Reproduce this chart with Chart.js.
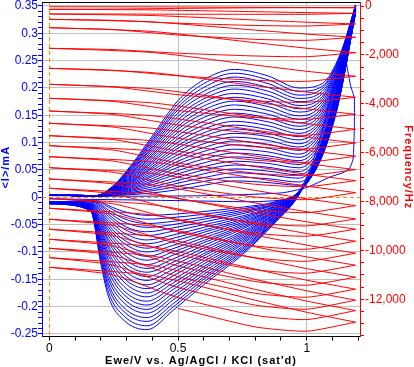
<!DOCTYPE html>
<html>
<head>
<meta charset="utf-8">
<script src="https://cdn.jsdelivr.net/npm/chart.js@4/dist/chart.umd.min.js"></script>
<style>
html, body { margin: 0; padding: 0; background: #fff; }
canvas { display: block; }
</style>
</head>
<body>
<canvas id="grafico" width="414" height="367"></canvas>
<script>
"use strict";

// --- dati ---
// voltammetria: potenziali (V) e correnti (uA), una riga per ciclo (dal piu' interno al piu' esterno)
const potenzialeAndata = [0, 0.18, 0.25, 0.32, 0.4, 0.5, 0.6, 0.72, 0.85, 0.97, 1.06, 1.13, 1.19];
const correnteAndata = [
  [5,2,3,5,8,14,22,30,27,22,75,190,338],
  [5,2,4,7,12,20,29,37,34,28,80,193,338],
  [5,2,4,9,15,26,36,45,41,35,85,195,339],
  [5,2,5,11,19,31,43,52,48,41,89,198,340],
  [5,2,6,13,23,37,50,59,55,47,94,200,340],
  [5,2,6,15,27,43,56,66,62,54,99,203,341],
  [5,2,7,17,30,49,63,74,69,60,104,205,341],
  [5,2,8,19,34,55,70,81,76,67,108,208,342],
  [5,2,8,21,38,61,77,88,83,73,113,211,342],
  [5,2,9,23,41,66,84,96,90,79,118,213,343],
  [5,2,10,25,45,72,91,103,97,86,123,216,343],
  [5,2,10,27,49,78,98,110,104,92,127,218,344],
  [5,2,11,29,53,84,105,117,111,98,132,221,344],
  [5,2,12,30,56,90,112,125,117,105,137,223,345],
  [5,3,13,32,60,95,118,132,124,111,142,226,345],
  [5,3,13,34,64,101,125,139,131,117,146,229,346],
  [5,3,14,36,67,107,132,147,138,124,151,231,346],
  [5,3,15,38,71,113,139,154,145,130,156,234,347],
  [5,3,15,40,75,119,146,161,152,136,161,236,347],
  [5,3,16,42,78,125,153,169,159,143,165,239,348],
  [5,3,17,44,82,130,160,176,166,149,170,241,348],
  [5,3,17,46,86,136,167,183,173,156,175,244,349],
  [5,3,18,48,90,142,174,190,180,162,180,247,349],
  [5,3,19,50,93,148,180,198,187,168,184,249,350],
  [5,3,19,52,97,154,187,205,194,175,189,252,350],
  [5,3,20,54,101,160,194,212,201,181,194,254,351],
  [5,3,21,56,104,165,201,220,208,187,199,257,351],
  [5,3,21,58,108,171,208,227,215,194,203,259,352],
  [5,3,22,60,112,177,215,234,222,200,208,262,352]
];
const potenzialeRitorno = [1.19, 1.12, 1.05, 0.97, 0.88, 0.75, 0.6, 0.48, 0.38, 0.29, 0.23, 0.2, 0.16, 0];
const correnteRitorno = [
  [338,165,65,10,-8,-18,-26,-31,-33,-26,-15,-8,-6,-9],
  [338,166,66,10,-9,-21,-31,-37,-40,-32,-18,-10,-7,-9],
  [339,168,67,10,-11,-24,-36,-44,-48,-39,-23,-13,-8,-9],
  [340,169,68,9,-12,-27,-40,-50,-55,-45,-27,-15,-9,-9],
  [340,170,69,9,-13,-30,-45,-56,-63,-52,-31,-18,-11,-9],
  [341,171,69,9,-15,-34,-50,-62,-70,-58,-35,-21,-12,-9],
  [341,173,70,9,-16,-37,-55,-69,-78,-65,-40,-24,-13,-9],
  [342,174,71,9,-17,-40,-60,-75,-85,-71,-45,-27,-14,-9],
  [342,175,72,9,-19,-43,-64,-81,-93,-78,-50,-30,-15,-9],
  [343,176,73,8,-20,-46,-69,-88,-100,-84,-55,-33,-15,-9],
  [343,178,74,8,-21,-49,-74,-94,-108,-91,-60,-37,-16,-10],
  [344,179,75,8,-23,-52,-79,-100,-115,-98,-65,-40,-17,-10],
  [344,180,76,8,-24,-55,-83,-106,-123,-105,-71,-44,-18,-10],
  [345,181,77,8,-25,-58,-88,-113,-130,-112,-77,-48,-19,-10],
  [345,183,77,7,-26,-62,-93,-119,-137,-119,-82,-51,-19,-10],
  [346,184,78,7,-28,-65,-98,-125,-145,-126,-89,-56,-20,-10],
  [346,185,79,7,-29,-68,-103,-132,-152,-133,-94,-60,-20,-10],
  [347,186,80,7,-30,-71,-107,-138,-160,-141,-101,-64,-21,-10],
  [347,188,81,7,-32,-74,-112,-144,-167,-148,-107,-69,-22,-10],
  [348,189,82,7,-33,-77,-117,-151,-175,-155,-114,-73,-22,-10],
  [348,190,83,6,-34,-80,-122,-157,-182,-163,-121,-78,-22,-11],
  [349,191,84,6,-36,-83,-127,-163,-190,-171,-128,-83,-23,-11],
  [349,193,85,6,-37,-86,-131,-169,-197,-178,-135,-88,-23,-11],
  [350,194,85,6,-38,-90,-136,-176,-205,-186,-143,-93,-23,-11],
  [350,195,86,6,-40,-93,-141,-182,-212,-193,-150,-98,-24,-11],
  [351,196,87,6,-41,-96,-146,-188,-220,-202,-158,-104,-24,-11],
  [351,198,88,5,-42,-99,-150,-195,-227,-209,-165,-109,-24,-12],
  [352,199,89,5,-44,-102,-155,-201,-235,-217,-174,-115,-24,-12],
  [352,200,90,5,-45,-105,-160,-207,-242,-225,-182,-121,-24,-12]
];
// primo ciclo (anello di nucleazione)
const potenzialePrimo = [0,0.3,0.6,0.9,1.0,1.09,1.14,1.165,1.18,1.185,1.185,1.18,1.17,1.16,1.15,1.13,1.1,1.06,1.02,0.98,0.94,0.8,0.5,0.2,0];
const correntePrimo = [3,2,3,8,18,37,45,52,70,130,180,190,205,230,252,240,195,120,60,18,-2,-8,-6,-4,-3];

// microbilancia: frequenza (Hz) per ciclo, andata e ritorno
const potenzialeFreqAndata = [0, 0.4, 0.8, 1.0, 1.19];
const freqAndata = [
  [-29,-35,-53,-61,-70],
  [-135,-160,-233,-270,-299],
  [-327,-389,-573,-663,-736],
  [-544,-654,-986,-1150,-1280],
  [-888,-1041,-1501,-1726,-1910],
  [-1730,-1902,-2417,-2671,-2875],
  [-2548,-2726,-3260,-3522,-3734],
  [-3203,-3387,-3939,-4209,-4429],
  [-3775,-3965,-4536,-4814,-5043],
  [-4295,-4491,-5080,-5366,-5603],
  [-4798,-5000,-5607,-5906,-6147],
  [-5305,-5513,-6139,-6446,-6695],
  [-5714,-5928,-6573,-6888,-7145],
  [-6164,-6384,-7047,-7370,-7636],
  [-6614,-6847,-7546,-7890,-8168],
  [-7076,-7321,-8057,-8417,-8712],
  [-7456,-7708,-8462,-8830,-9133],
  [-7865,-8129,-8920,-9309,-9624],
  [-8274,-8550,-9378,-9783,-10114],
  [-8724,-9007,-9853,-10266,-10605],
  [-9133,-9427,-10311,-10744,-11096],
  [-9542,-9849,-10769,-11219,-11587],
  [-9910,-10228,-11186,-11652,-12037],
  [-10294,-10619,-11595,-12073,-12462],
  [-10687,-11024,-12037,-12532,-12937]
];
const potenzialeFreqRitorno = [1.19, 1.0, 0.8, 0.5, 0.25, 0];
const freqRitorno = [
  [-70,-70,-74,-98,-127,-135],
  [-299,-339,-339,-335,-327,-327],
  [-736,-818,-797,-703,-585,-544],
  [-1280,-1403,-1362,-1186,-965,-888],
  [-1910,-2074,-2045,-1930,-1783,-1730],
  [-2875,-3080,-3039,-2855,-2630,-2548],
  [-3734,-3939,-3881,-3628,-3313,-3203],
  [-4429,-4634,-4564,-4274,-3906,-3775],
  [-5043,-5288,-5211,-4871,-4442,-4295],
  [-5603,-5849,-5763,-5407,-4957,-4798],
  [-6147,-6393,-6307,-5935,-5468,-5305],
  [-6695,-6941,-6842,-6425,-5898,-5714],
  [-7145,-7391,-7293,-6875,-6348,-6164],
  [-7636,-7922,-7816,-7374,-6810,-6614],
  [-8168,-8454,-8344,-7874,-7285,-7076],
  [-8712,-8998,-8875,-8352,-7689,-7456],
  [-9133,-9419,-9296,-8765,-8098,-7865],
  [-9624,-9951,-9816,-9248,-8524,-8274],
  [-10114,-10442,-10303,-9722,-8982,-8724],
  [-10605,-10932,-10789,-10176,-9403,-9133],
  [-11096,-11423,-11272,-10634,-9824,-9542],
  [-11587,-11914,-11754,-11071,-10208,-9910],
  [-12037,-12405,-12237,-11517,-10609,-10294],
  [-12462,-12830,-12658,-11930,-11010,-10687],
  [-12937,-13305,-13129,-12372]
];

// tacche degli assi
const tickFrequenza = { da: -13500, a: 0, passo: 500, etichetta: 2000 };

const BLU = "#0000ff", ROSSO = "#ff0000";
const fontTick = { family: "Liberation Sans, Arial, sans-serif", size: 12 };

function serie(xs, ys, scala) {
  return ys.map((v, i) => ({ x: xs[i], y: v / scala }));
}

let datasets = [];
// frequenza (sopra alle correnti)
for (let c = 0; c < freqAndata.length; c++) {
  let punti = serie(potenzialeFreqAndata, freqAndata[c], 1).concat(serie(potenzialeFreqRitorno, freqRitorno[c], 1));
  datasets.push({ data: punti, yAxisID: "y2", borderColor: ROSSO, borderWidth: 1, pointRadius: 0, showLine: true, tension: 0.2, order: 0 });
}
// correnti
datasets.push({ data: serie(potenzialePrimo, correntePrimo, 1000), yAxisID: "y", borderColor: BLU, borderWidth: 1, pointRadius: 0, showLine: true, tension: 0.2, order: 1 });
for (let c = 0; c < correnteAndata.length; c++) {
  datasets.push({ data: serie(potenzialeAndata, correnteAndata[c], 1000), yAxisID: "y", borderColor: BLU, borderWidth: 1, pointRadius: 0, showLine: true, cubicInterpolationMode: "monotone", order: 1 });
  datasets.push({ data: serie(potenzialeRitorno, correnteRitorno[c], 1000), yAxisID: "y", borderColor: BLU, borderWidth: 1, pointRadius: 0, showLine: true, cubicInterpolationMode: "monotone", order: 1 });
}

// linee tratteggiate dello zero, bordo in alto e titoli degli assi
const cornice = {
  id: "cornice",
  beforeDatasetsDraw(chart) {
    const c = chart.ctx, a = chart.chartArea;
    const x0 = Math.round(chart.scales.x.getPixelForValue(0)) + 0.5;
    const y0 = Math.round(chart.scales.y.getPixelForValue(0)) + 0.5;
    c.save();
    c.strokeStyle = "#ff8c00";
    c.lineWidth = 1;
    c.setLineDash([4, 3]);
    c.beginPath();
    c.moveTo(x0, a.top); c.lineTo(x0, a.bottom);
    c.moveTo(a.left, y0); c.lineTo(a.right, y0);
    c.stroke();
    c.restore();
  },
  afterDraw(chart) {
    const c = chart.ctx, a = chart.chartArea;
    c.save();
    c.strokeStyle = "#000";
    c.lineWidth = 1;
    c.beginPath();
    c.moveTo(a.left, Math.round(a.top) + 0.5);
    c.lineTo(a.right, Math.round(a.top) + 0.5);
    c.stroke();

    c.letterSpacing = "1px";
    c.font = "bold 11px 'Liberation Sans', Arial, sans-serif";
    c.textAlign = "center";
    c.textBaseline = "middle";
    const ym = (a.top + a.bottom) / 2 - 2;

    c.fillStyle = "#000";
    c.fillText("Ewe/V vs. Ag/AgCl / KCl (sat'd)", (a.left + a.right) / 2, 361);

    c.save();
    c.translate(6, ym);
    c.rotate(-Math.PI / 2);
    c.fillStyle = BLU;
    c.fillText("<I>/mA", 0, 0);
    c.restore();

    c.save();
    c.translate(408, ym);
    c.rotate(Math.PI / 2);
    c.fillStyle = ROSSO;
    c.fillText("Frequency/Hz", 0, 0);
    c.restore();
    c.restore();
  }
};

const r5 = v => Math.round(v * 100);
// niente margini extra per le etichette alle estremita'
const senzaMargini = s => { s.paddingTop = 0; s.paddingBottom = 0; s.paddingLeft = 0; s.paddingRight = 0; };

let grafico = new Chart(document.getElementById("grafico"), {
  type: "scatter",
  data: { datasets: datasets },
  plugins: [cornice],
  options: {
    responsive: false,
    animation: false,
    events: [],
    layout: { padding: { top: 2, left: 0, right: 0, bottom: 0 } },
    plugins: { legend: { display: false }, tooltip: { enabled: false } },
    scales: {
      x: {
        type: "linear", min: -0.0284, max: 1.207,
        afterFit: s => { s.height = 30.5; senzaMargini(s); },
        border: { color: "#000", width: 1 },
        grid: {
          color: ctx => { const k = Math.round(ctx.tick.value * 10); return (k === 5 || k === 10) ? "#c0c0c0" : "rgba(0,0,0,0)"; },
          tickColor: "#000", tickLength: 4
        },
        ticks: {
          stepSize: 0.1, includeBounds: false, autoSkip: false, maxRotation: 0, padding: 1,
          color: "#000", font: fontTick,
          callback: v => { const k = Math.round(v * 10); return k % 5 === 0 ? String(k / 10) : ""; }
        }
      },
      y: {
        type: "linear", position: "left", min: -0.2546, max: 0.3573,
        afterFit: s => { s.width = 42; senzaMargini(s); },
        border: { color: BLU, width: 1 },
        grid: {
          color: ctx => { const k = r5(ctx.tick.value); return (k % 5 === 0 && k !== 0) ? "#c0c0c0" : "rgba(0,0,0,0)"; },
          tickColor: BLU, tickLength: 4
        },
        ticks: {
          stepSize: 0.01, includeBounds: false, autoSkip: false, maxTicksLimit: 100, padding: 0,
          color: BLU, font: fontTick,
          callback: v => { const k = r5(v); return k % 5 === 0 ? String(k / 100) : ""; }
        }
      },
      y2: {
        type: "linear", position: "right", min: -13522, max: 164,
        afterFit: s => { s.width = 54; senzaMargini(s); },
        afterBuildTicks: s => {
          s.ticks = [];
          for (let f = tickFrequenza.da; f <= tickFrequenza.a; f += tickFrequenza.passo) s.ticks.push({ value: f });
        },
        border: { color: ROSSO, width: 1 },
        grid: { drawOnChartArea: false, tickColor: ROSSO, tickLength: 4 },
        ticks: {
          autoSkip: false, padding: 1,
          color: ROSSO, font: fontTick,
          callback: v => { const k = Math.round(v); return k % tickFrequenza.etichetta === 0 ? (k || 0).toLocaleString("en-US") : ""; }
        }
      }
    }
  }
});
</script>
</body>
</html>
